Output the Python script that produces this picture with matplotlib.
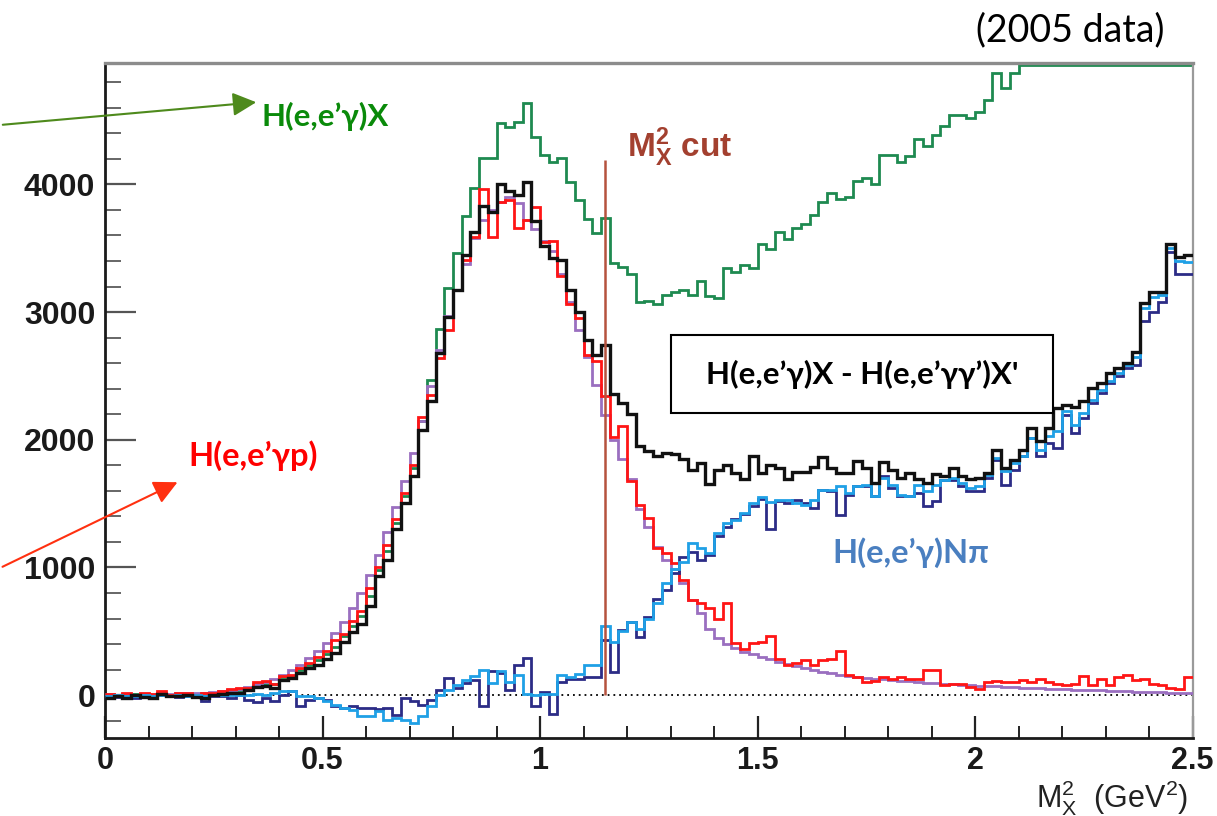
import numpy as np
import matplotlib
matplotlib.use("Agg")
import matplotlib.pyplot as plt
from matplotlib.patches import Rectangle, FancyArrowPatch

plt.rcParams["mathtext.fontset"] = "custom"
plt.rcParams["mathtext.rm"] = "Liberation Sans"
plt.rcParams["mathtext.it"] = "Liberation Sans"
plt.rcParams["mathtext.bf"] = "Liberation Sans:bold"

# ---- histogram content: 125 bins of width 0.02 GeV^2 from 0 to 2.5 ----
x_min, x_max, n_bins = 0.0, 2.5, 125

# H(e,e'gamma)X
green = [
    -10, 0, -5, 10, 0, 5, 20, 5, 5, 10,
    5, 10, 15, 25, 30, 40, 50, 80, 90, 85,
    140, 150, 200, 235, 275, 320, 380, 460, 540, 620,
    780, 980, 1130, 1350, 1560, 1780, 2150, 2470, 2870, 3190,
    3465, 3755, 3975, 4210, 4210, 4480, 4450, 4485, 4640, 4370,
    4230, 4175, 4205, 4015, 3880, 3730, 3620, 3740, 3385, 3355,
    3295, 3080, 3090, 3060, 3130, 3155, 3170, 3130, 3245, 3125,
    3110, 3345, 3315, 3370, 3345, 3535, 3490, 3630, 3575, 3655,
    3690, 3760, 3865, 3930, 3885, 3900, 4025, 4050, 4000, 4230,
    4230, 4175, 4220, 4355, 4300, 4385, 4460, 4545, 4545, 4520,
    4565, 4657, 4870, 4755, 4870, 5010, 5060, 5120, 5150, 5200,
    5260, 5310, 5350, 5420, 5480, 5530, 5600, 5650, 5700, 5760,
    5820, 5880, 5950, 6000, 6060,
]

# H(e,e'gamma)X - H(e,e'gamma gamma')X'
black = [
    -20, -10, -25, 0, -15, -20, 10, -5, -10, 0,
    -15, -20, 5, 10, 15, 20, 40, 65, 70, 60,
    120, 135, 175, 210, 240, 280, 330, 420, 495, 560,
    700, 930, 1060, 1300, 1505, 1715, 2080, 2300, 2680, 2960,
    3175, 3450, 3625, 3830, 3780, 4000, 3945, 3920, 4015, 3710,
    3520, 3425, 3405, 3175, 3000, 2785, 2665, 2745, 2355, 2290,
    2200, 1950, 1915, 1870, 1895, 1885, 1850, 1765, 1820, 1650,
    1765, 1805, 1740, 1690, 1870, 1740, 1805, 1780, 1690, 1750,
    1750, 1790, 1865, 1780, 1740, 1740, 1830, 1780, 1665, 1825,
    1765, 1700, 1740, 1690, 1665, 1735, 1715, 1780, 1715, 1690,
    1700, 1740, 1920, 1780, 1845, 1920, 2090, 1990, 2090, 2250,
    2270, 2260, 2300, 2405, 2445, 2525, 2560, 2600, 2690, 3070,
    3160, 3160, 3530, 3430, 3450,
]

# H(e,e'gamma p)
red = [
    10, 0, 15, 5, 20, 10, 30, 0, 20, 15,
    5, 20, 15, 35, 50, 60, 55, 100, 110, 90,
    150, 160, 215, 250, 300, 350, 430, 480, 580, 660,
    840, 1000, 1180, 1380, 1580, 1800, 2180, 2350, 2640, 2860,
    3175, 3410, 3590, 3960, 3590, 3860, 3880, 3660, 3720, 3820,
    3550, 3560, 3280, 3060, 2950, 2660, 2620, 2340, 2020, 2105,
    1675, 1490, 1390, 1150, 1115, 1035, 900, 745, 720, 680,
    600, 720, 405, 365, 405, 420, 460, 285, 235, 250,
    275, 235, 275, 280, 350, 155, 145, 105, 115, 145,
    130, 145, 130, 130, 195, 195, 80, 90, 90, 65,
    52, 105, 112, 105, 105, 117, 105, 130, 105, 90,
    80, 90, 150, 80, 130, 80, 145, 155, 117, 130,
    90, 80, 60, 45, 145,
]

# simulated exclusive shape
purple = [
    10, 5, 10, 5, 10, 10, 15, 10, 15, 15,
    20, 20, 25, 30, 40, 50, 65, 85, 105, 130,
    160, 195, 240, 290, 345, 410, 490, 575, 680, 800,
    940, 1100, 1280, 1470, 1680, 1900, 2150, 2420, 2700, 2970,
    3170, 3380, 3580, 3720, 3800, 3860, 3900, 3850, 3720, 3650,
    3560, 3480, 3300, 3080, 2860, 2650, 2430, 2195, 2000, 1850,
    1690, 1460, 1320, 1160, 1060, 990, 880, 745, 640, 520,
    445, 400, 370, 340, 320, 300, 280, 260, 245, 230,
    215, 200, 185, 172, 160, 150, 143, 136, 130, 124,
    118, 113, 108, 103, 99, 95, 91, 87, 83, 79,
    75, 72, 69, 66, 63, 60, 57, 54, 51, 48,
    45, 43, 41, 39, 37, 35, 33, 31, 29, 27,
    25, 23, 21, 19, 18,
]

# H(e,e'gamma)N pi, two estimates
navy = [
    -22, -15, -10, -20, -10, -22, 5, -5, -15, -10,
    -12, -48, -5, -10, -22, 0, -35, -56, -22, -48,
    0, 30, -87, -35, -22, -35, -87, -100, -87, -100,
    -100, -110, -100, -153, -22, -48, -74, -35, 43, 134,
    56, 95, 121, -87, 186, 173, 43, 239, 291, -87,
    26, -144, 104, 130, 130, 144, 144, 430, 183, 509,
    574, 457, 613, 757, 822, 953, 1080, 1120, 1060, 1100,
    1250, 1320, 1380, 1420, 1480, 1540, 1300, 1520, 1505, 1531,
    1505, 1466, 1609, 1596, 1414, 1570, 1635, 1635, 1557, 1713,
    1622, 1557, 1557, 1583, 1479, 1518, 1687, 1687, 1635, 1596,
    1596, 1700, 1844, 1648, 1766, 1870, 2014, 1870, 1975, 1936,
    2197, 2053, 2170, 2288, 2366, 2444, 2497, 2562, 2588, 2930,
    3000, 3080, 3470, 3300, 3300,
]

lightblue = [
    -10, 0, -5, -10, 5, -5, 0, -5, 0, -10,
    0, -5, 5, 0, 5, 5, 0, 10, 5, 15,
    30, 30, -10, -10, -22, -48, -74, -100, -113, -166,
    -166, -126, -192, -179, -192, -218, -166, -87, 4, 43,
    82, 121, 147, 199, 95, 186, 100, 160, 10, 4,
    13, 13, 157, 140, 170, 235, 235, 540, 420, 500,
    575, 520, 600, 720, 880, 990, 1040, 1190, 1150, 1115,
    1270, 1350, 1375, 1425, 1505, 1555, 1515, 1530, 1531, 1505,
    1490, 1531, 1609, 1609, 1635, 1583, 1635, 1648, 1557, 1700,
    1648, 1570, 1557, 1648, 1596, 1648, 1687, 1700, 1661, 1622,
    1635, 1726, 1857, 1752, 1818, 1870, 2014, 1922, 2027, 2066,
    2223, 2118, 2210, 2314, 2393, 2457, 2523, 2588, 2650, 3030,
    3120, 3136, 3500, 3400, 3390,
]

m2_cut = 1.15
cut_top = 4190

x_ticks = [0, 0.5, 1, 1.5, 2, 2.5]
x_ticklabels = ["0", "0.5", "1", "1.5", "2", "2.5"]
y_ticks = [0, 1000, 2000, 3000, 4000]
y_ticklabels = ["0", "1000", "2000", "3000", "4000"]
y_lo, y_hi = -335, 4950

# ---- figure ----
W, H = 1217, 816
fig = plt.figure(figsize=(W / 100, H / 100), dpi=100)


def fx(px):
    return px / W


def fy(py):
    return 1 - py / H


ax = fig.add_axes([fx(105), fy(738), (1192.5 - 105) / W, (738 - 63) / H])
ax.set_xlim(x_min, x_max)
ax.set_ylim(y_lo, y_hi)

edges = np.linspace(x_min, x_max, n_bins + 1)

ax.axhline(0, color="black", lw=1.3, ls=(0, (1, 2.2)), zorder=1)

green_shown = np.minimum(np.asarray(green, float), y_hi - 12)
ax.stairs(green_shown, edges, baseline=None, color="#1e8a50", lw=2.0, zorder=2)
ax.stairs(purple, edges, baseline=None, color="#9a6fc0", lw=2.0, zorder=3)
ax.stairs(red, edges, baseline=None, color="#ff1515", lw=2.0, zorder=4)
ax.stairs(navy, edges, baseline=None, color="#2c2c86", lw=2.0, zorder=5)
ax.stairs(lightblue, edges, baseline=None, color="#1fa0e6", lw=2.0, zorder=6)
ax.stairs(black, edges, baseline=None, color="#111111", lw=2.4, zorder=7)

ax.vlines(m2_cut, 0, cut_top, color="#b5523e", lw=1.8, zorder=8)

# axes styling
ax.set_xticks(x_ticks)
ax.set_xticklabels(x_ticklabels)
ax.set_xticks(np.arange(0, 2.51, 0.1), minor=True)
ax.set_yticks(y_ticks)
ax.set_yticklabels(y_ticklabels)
ax.set_yticks(np.arange(-200, 4801, 200), minor=True)

ax.tick_params(axis="x", which="major", direction="in", length=16, width=1.6,
               color="#222222", pad=6, labelsize=22)
ax.tick_params(axis="x", which="minor", direction="in", length=8.5, width=1.4,
               color="#222222")
ax.tick_params(axis="y", which="major", direction="in", length=22, width=1.6,
               color="#555555", pad=7, labelsize=23)
ax.tick_params(axis="y", which="minor", direction="in", length=11.5, width=1.4,
               color="#666666")
ax.tick_params(top=False, right=False)
for lab in ax.get_xticklabels() + ax.get_yticklabels():
    lab.set_fontfamily("Liberation Sans")
    lab.set_fontweight("bold")
    lab.set_color("#1a1a1a")

for side in ("left", "bottom"):
    ax.spines[side].set_color("#1a1a1a")
    ax.spines[side].set_linewidth(2.0)
ax.spines["top"].set_color("#8c8c8c")
ax.spines["top"].set_linewidth(2.4)
ax.spines["right"].set_color("#9a9a9a")
ax.spines["right"].set_linewidth(1.6)
ax.spines["right"].set_linestyle((0, (1, 1)))

# ---- annotations ----
label_font = ["Lato", "DejaVu Sans"]

fig.text(fx(1165), fy(30), "(2005 data)", ha="right", va="center",
         fontsize=27, family=label_font, color="black")

fig.text(fx(262), fy(116), "H(e,e\u2019\u03b3)X", ha="left", va="center",
         fontsize=22.5, fontweight="bold", family=label_font, color="#0a8a0a")
fig.add_artist(FancyArrowPatch((fx(0), fy(125)), (fx(259), fy(102)),
                               transform=fig.transFigure,
                               arrowstyle="-|>,head_length=0.8,head_width=0.4",
                               mutation_scale=18, color="#4e8a1c", lw=1.5))

fig.text(fx(188), fy(456), "H(e,e\u2019\u03b3p)", ha="left", va="center",
         fontsize=23.5, fontweight="bold", family=label_font, color="#ff0000")
fig.add_artist(FancyArrowPatch((fx(0), fy(568)), (fx(180), fy(481)),
                               transform=fig.transFigure,
                               arrowstyle="-|>,head_length=0.8,head_width=0.4",
                               mutation_scale=18, color="#ff3010", lw=1.5))

fig.text(fx(832), fy(553), "H(e,e\u2019\u03b3)N\u03c0", ha="left", va="center",
         fontsize=23.5, fontweight="bold", family=label_font, color="#4a7fc0")

fig.add_artist(Rectangle((fx(671), fy(413)), 382 / W, 78 / H,
                         transform=fig.transFigure, facecolor="white",
                         edgecolor="black", lw=1.5, zorder=9))
fig.text(fx(862), fy(374), "H(e,e\u2019\u03b3)X - H(e,e\u2019\u03b3\u03b3\u2019)X'",
         ha="center", va="center", fontsize=22.5, fontweight="bold",
         family=label_font, color="black", zorder=10)

fig.text(fx(627), fy(147), r"$\mathbf{M^{2}_{X}}$ cut", ha="left", va="center",
         fontsize=24, fontweight="bold", family="Liberation Sans", color="#a3402f")

fig.text(fx(1188), fy(798), r"M$^{2}_{\mathrm{X}}$  (GeV$^{2}$)", ha="right",
         va="center", fontsize=22, family="Liberation Sans", color="#222222")

fig.savefig("out.png", dpi=100)
